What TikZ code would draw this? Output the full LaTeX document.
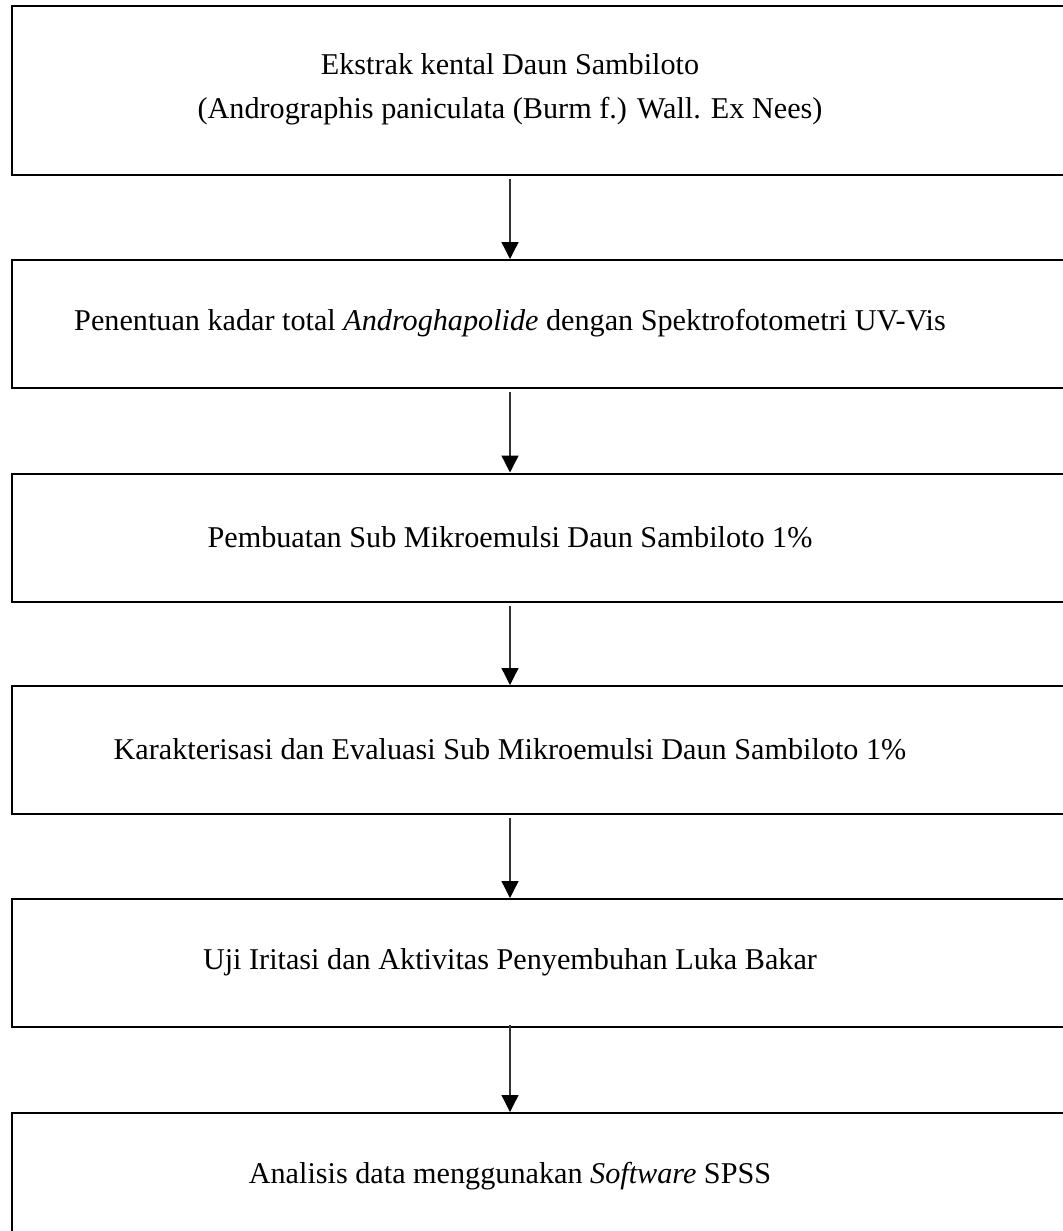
\documentclass[tikz,border=0pt]{standalone}
\usepackage{fontspec}
\setmainfont{Liberation Serif}
\usetikzlibrary{positioning,arrows.meta}

\begin{document}
\begin{tikzpicture}[
  x=0.5pt, y=-0.5pt,
  font=\fontsize{15.1}{22}\selectfont,
  >={Triangle[width=8.5pt,length=8.5pt,color=black]},
  frame/.style={draw, line width=1pt, minimum width=545pt, minimum height=64pt,
                anchor=north west, inner sep=0pt},
  caption/.style={align=center, inner sep=0pt},
  flow/.style={->, draw=black!80, line width=0.65pt, shorten <=1.5pt},
]
  \useasboundingbox (0,0) rectangle (1062,1231);
  % ── Boxes (their right side runs past the page edge) ──
  \node[frame, minimum height=84.75pt] (b1) at (10.5,4.5) {};
  \node[frame] (b2) at (10.5,259) {};
  \node[frame] (b3) at (10.5,472.5) {};
  \node[frame] (b4) at (10.5,685) {};
  \node[frame] (b5) at (10.5,898) {};
  \node[frame] (b6) at (10.5,1112) {};
  % ── Step texts, centred on the arrow line ──
  \node[caption] (t1) at (510,89)
    {Ekstrak kental Daun Sambiloto\\(Andrographis paniculata (Burm f.) Wall. Ex Nees)};
  \node[caption] (t2) at (510,323)
    {Penentuan kadar total \textit{Androghapolide} dengan Spektrofotometri UV-Vis};
  \node[caption] (t3) at (510,537)
    {Pembuatan Sub Mikroemulsi Daun Sambiloto 1\%};
  \node[caption] (t4) at (510,749)
    {Karakterisasi dan Evaluasi Sub Mikroemulsi Daun Sambiloto 1\%};
  \node[caption] (t5) at (510,962)
    {Uji Iritasi dan Aktivitas Penyembuhan Luka Bakar};
  \node[caption] (t6) at (510,1176)
    {Analisis data menggunakan \textit{Software} SPSS};
  % ── Flow arrows ──
  \draw[flow] (b1.south -| t1) -- (b2.north -| t1);
  \draw[flow] (b2.south -| t1) -- (b3.north -| t1);
  \draw[flow] (b3.south -| t1) -- (b4.north -| t1);
  \draw[flow] (b4.south -| t1) -- (b5.north -| t1);
  \draw[flow, shorten <=-1.5pt] (b5.south -| t1) -- (b6.north -| t1);
\end{tikzpicture}
\end{document}
